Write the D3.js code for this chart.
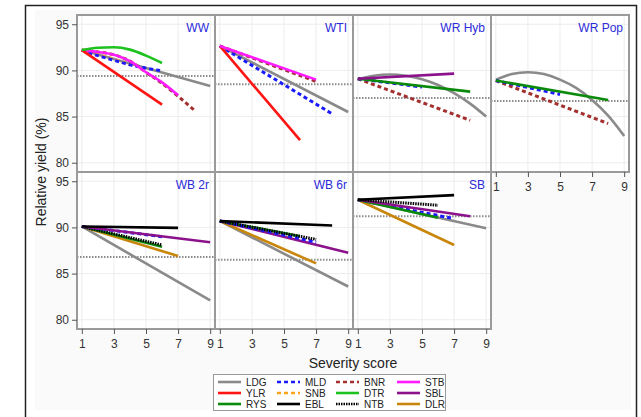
<!DOCTYPE html>
<html>
<head>
<meta charset="utf-8">
<script src="https://cdn.jsdelivr.net/npm/d3@7"></script>
<style>
  body { margin: 0; background: #fff; }
  svg { font-family: "Liberation Sans", Arial, sans-serif; }
</style>
</head>
<body>
<svg width="641" height="417"></svg>
<script>
// panel names, reading order
var panelNames = ["WW", "WTI", "WR Hyb", "WR Pop", "WB 2r", "WB 6r", "SB"];
// dotted reference yield in each panel
var thresholds = [89.4, 88.5, 87.0, 86.7, 86.8, 86.5, 91.2];

var xTicks = [1, 3, 5, 7, 9];
var yTicks = [80, 85, 90, 95];

// legend order (row by row)
var legendCodes = ["LDG", "MLD", "BNR", "STB",
                   "YLR", "SNB", "DTR", "SBL",
                   "RYS", "EBL", "NTB", "DLR"];

// [disease, [[severity, relative yield], ...]]
var wwLines = [
    ["LDG", [[1, 92.2], [9, 88.3]]],
    ["BNR", [[1, 92.2], [2, 92.0], [3, 91.7], [4, 91.0], [5, 89.8], [6, 88.6], [7, 87.2], [8, 85.7]]],
    ["SNB", [[1, 92.2], [2, 91.7], [3, 91.2], [4, 90.6]]],
    ["MLD", [[1, 92.2], [2, 91.6], [3, 91.1], [4, 90.6], [5, 90.25], [6, 89.95]]],
    ["STB", [[1, 92.2], [2, 92.0], [3, 91.7], [4, 91.0], [5, 89.8], [6, 88.7], [7, 87.3]]],
    ["YLR", [[1, 92.2], [6, 86.3]]],
    ["DTR", [[1, 92.2], [2, 92.45], [3, 92.5], [4, 92.25], [5, 91.6], [6, 90.8]]]
];
var wtiLines = [
    ["LDG", [[1, 92.65], [9, 85.5]]],
    ["MLD", [[1, 92.65], [8, 85.3]]],
    ["YLR", [[1, 92.65], [6, 82.45]]],
    ["BNR", [[1, 92.65], [7, 88.8]]],
    ["STB", [[1, 92.65], [7, 89.0]]]
];
var wrHybLines = [
    ["LDG", [[1, 89.05], [2, 89.42], [3, 89.55], [4, 89.42], [5, 89.05], [6, 88.42], [7, 87.53], [8, 86.4], [9, 85.0]]],
    ["BNR", [[1, 89.1], [8, 84.6]]],
    ["MLD", [[1, 89.1], [5, 88.2]]],
    ["RYS", [[1, 89.1], [8, 87.7]]],
    ["SBL", [[1, 89.1], [7, 89.65]]]
];
var wrPopLines = [
    ["LDG", [[1, 89.0], [2, 89.6], [3, 89.8], [4, 89.6], [5, 89.0], [6, 88.1], [7, 86.8], [8, 85.1], [9, 82.9]]],
    ["BNR", [[1, 88.9], [8, 84.25]]],
    ["MLD", [[1, 88.9], [5, 87.4]]],
    ["RYS", [[1, 88.9], [8, 86.8]]]
];
var wb2rLines = [
    ["LDG", [[1, 90.1], [9, 82.1]]],
    ["DLR", [[1, 90.1], [7, 86.9]]],
    ["RYS", [[1, 90.1], [6, 87.9]]],
    ["NTB", [[1, 90.1], [6, 88.1]]],
    ["MLD", [[1, 90.1], [6, 89.0]]],
    ["SBL", [[1, 90.1], [9, 88.4]]],
    ["EBL", [[1, 90.1], [7, 89.95]]]
];
var wb6rLines = [
    ["LDG", [[1, 90.7], [9, 83.6]]],
    ["DLR", [[1, 90.7], [7, 86.1]]],
    ["SBL", [[1, 90.7], [9, 87.25]]],
    ["RYS", [[1, 90.7], [6, 89.05]]],
    ["MLD", [[1, 90.7], [7, 88.4]]],
    ["NTB", [[1, 90.7], [7, 88.7]]],
    ["EBL", [[1, 90.7], [8, 90.2]]]
];
var sbLines = [
    ["LDG", [[1, 93.0], [9, 89.9]]],
    ["DLR", [[1, 93.0], [7, 88.1]]],
    ["MLD", [[1, 93.0], [7, 90.95]]],
    ["RYS", [[1, 93.0], [6, 91.05]]],
    ["SBL", [[1, 93.0], [8, 91.2]]],
    ["NTB", [[1, 93.0], [6, 92.4]]],
    ["EBL", [[1, 93.0], [7, 93.5]]]
];
var panelLines = [wwLines, wtiLines, wrHybLines, wrPopLines, wb2rLines, wb6rLines, sbLines];

// line styles per disease
var styles = {
    LDG: {color: "#8a8a8a", dash: null},
    YLR: {color: "#ff1414", dash: null},
    RYS: {color: "#0a8a0a", dash: null},
    MLD: {color: "#1a1aff", dash: "4,3"},
    SNB: {color: "#ffa31a", dash: "4,3"},
    EBL: {color: "#000000", dash: null},
    BNR: {color: "#a3302f", dash: "4,3"},
    DTR: {color: "#1ec21e", dash: null},
    NTB: {color: "#000000", dash: "1.5,1"},
    STB: {color: "#ff1aff", dash: null},
    SBL: {color: "#8b128b", dash: null},
    DLR: {color: "#c8860b", dash: null}
};

var svg = d3.select("svg");

// outer frame + faint background
svg.append("rect").attr("x", 35).attr("y", 10).attr("width", 596).attr("height", 400)
    .attr("fill", "#fafafa");
svg.append("rect").attr("x", 25.5).attr("y", 5.5).attr("width", 611).attr("height", 440)
    .attr("fill", "none").attr("stroke", "#222").attr("stroke-width", 1.5);

var plotLeft = 77, plotTop = 15, pw = 138, ph = 157;

var x = d3.scaleLinear().domain([0.7, 9.3]).range([0, pw]);
var y = d3.scaleLinear().domain([79, 96]).range([ph, 0]);

var line = d3.line()
    .x(function(d) { return x(d[0]); })
    .y(function(d) { return y(d[1]); })
    .curve(d3.curveMonotoneX);

panelNames.forEach(function(name, i) {
    var col = i % 4, row = Math.floor(i / 4);
    var g = svg.append("g")
        .attr("transform", "translate(" + (plotLeft + col * pw) + "," + (plotTop + row * ph) + ")");

    g.append("rect").attr("width", pw).attr("height", ph).attr("fill", "#fff");

    // grid
    g.selectAll(".vg").data(xTicks).enter().append("line")
        .attr("x1", function(d) { return x(d); }).attr("x2", function(d) { return x(d); })
        .attr("y1", 0).attr("y2", ph)
        .attr("stroke", "#ededed").attr("stroke-width", 1);
    g.selectAll(".hg").data(yTicks).enter().append("line")
        .attr("x1", 0).attr("x2", pw)
        .attr("y1", function(d) { return y(d); }).attr("y2", function(d) { return y(d); })
        .attr("stroke", "#ededed").attr("stroke-width", 1);

    // reference line
    g.append("line")
        .attr("x1", 0).attr("x2", pw)
        .attr("y1", y(thresholds[i])).attr("y2", y(thresholds[i]))
        .attr("stroke", "#8c8c8c").attr("stroke-width", 2)
        .attr("stroke-dasharray", "1.5,1.5");

    // model lines
    g.selectAll(".ln").data(panelLines[i]).enter().append("path")
        .attr("d", function(d) { return line(d[1]); })
        .attr("fill", "none")
        .attr("stroke", function(d) { return styles[d[0]].color; })
        .attr("stroke-width", function(d) { return styles[d[0]].dash ? 3 : 2.6; })
        .attr("stroke-dasharray", function(d) { return styles[d[0]].dash; });

    g.append("text")
        .attr("x", pw - 6).attr("y", 16.5)
        .attr("text-anchor", "end")
        .attr("font-size", 12)
        .attr("fill", "#2b2bd9")
        .text(name);

    g.append("rect").attr("width", pw).attr("height", ph)
        .attr("fill", "none").attr("stroke", "#9a9a9a").attr("stroke-width", 2);

    // axes
    if (col == 0) {
        var yAxis = d3.axisLeft(y).tickValues(yTicks).tickSize(5).tickPadding(3);
        g.append("g").attr("class", "y axis").call(yAxis);
    }
    if (row == 1 || col == 3) {
        var xAxis = d3.axisBottom(x).tickValues(xTicks).tickSize(5).tickPadding(5);
        g.append("g").attr("class", "x axis")
            .attr("transform", "translate(0," + ph + ")")
            .call(xAxis);
    }
});

svg.selectAll(".axis .domain").remove();
svg.selectAll(".axis line").attr("stroke", "#555");
svg.selectAll(".axis text")
    .attr("font-size", 12)
    .attr("fill", "#333")
    .attr("font-family", "Liberation Sans, Arial, sans-serif");

svg.append("text")
    .attr("transform", "translate(46," + (plotTop + ph) + ") rotate(-90)")
    .attr("text-anchor", "middle")
    .attr("font-size", 14)
    .attr("fill", "#222")
    .text("Relative yield (%)");

svg.append("text")
    .attr("x", plotLeft + 2 * pw).attr("y", 368)
    .attr("text-anchor", "middle")
    .attr("font-size", 14)
    .attr("fill", "#222")
    .text("Severity score");

// legend
var legendCols = [218, 277, 336, 397];
var legendRows = [382, 393, 404];

svg.append("rect")
    .attr("x", 213.5).attr("y", 374.5).attr("width", 232).attr("height", 36)
    .attr("fill", "#fff").attr("stroke", "#999").attr("stroke-width", 1);

var items = svg.selectAll(".leg").data(legendCodes).enter().append("g")
    .attr("transform", function(d, i) {
        return "translate(" + legendCols[i % 4] + "," + legendRows[Math.floor(i / 4)] + ")";
    });
items.append("line")
    .attr("x1", 0).attr("x2", 23).attr("y1", 0).attr("y2", 0)
    .attr("stroke", function(d) { return styles[d].color; })
    .attr("stroke-width", 2.6)
    .attr("stroke-dasharray", function(d) { return styles[d].dash; });
items.append("text")
    .attr("x", 28).attr("y", 3.6)
    .attr("font-size", 10)
    .attr("fill", "#222")
    .text(function(d) { return d; });
</script>
</body>
</html>
